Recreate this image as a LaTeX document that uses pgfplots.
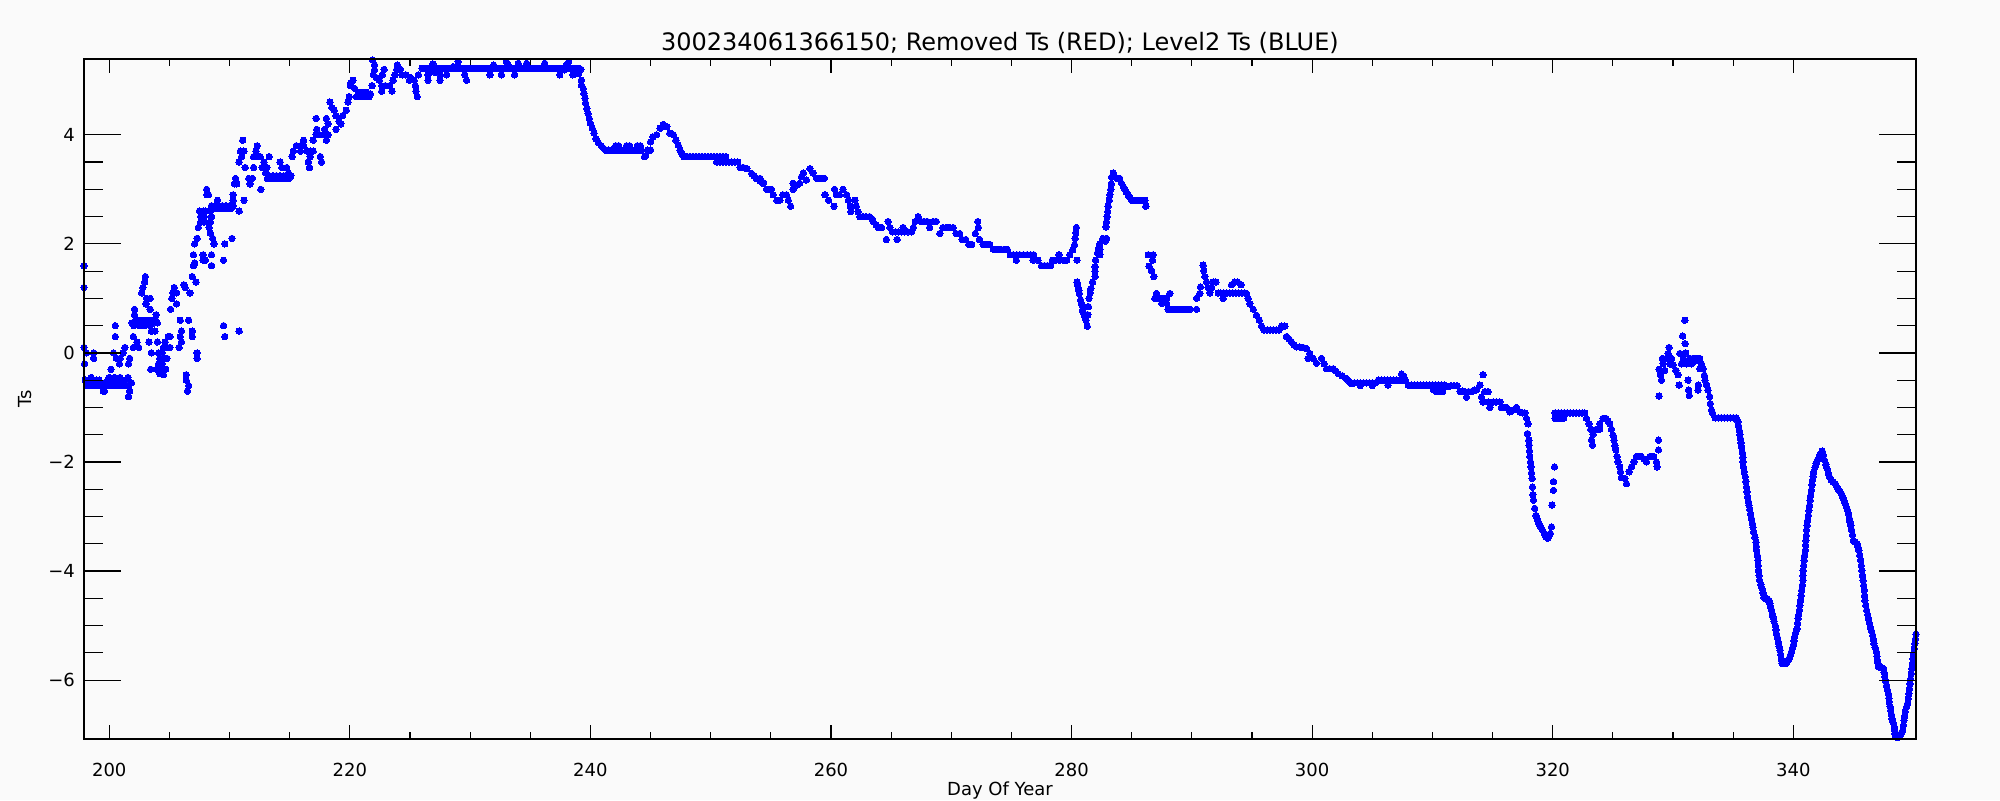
\documentclass[border=0pt]{standalone}
\usepackage{pgfplots}
\pgfplotsset{compat=1.18}
\usepackage{fontspec}
\setmainfont{DejaVu Sans}
\definecolor{bgc}{RGB}{250,250,250}
\definecolor{tsblue}{RGB}{0,0,255}

\begin{document}
\begin{tikzpicture}
\fill[bgc] (-42pt,-30.5pt) rectangle (958pt,369.5pt);
\useasboundingbox (-42pt,-30.5pt) rectangle (958pt,369.5pt);

% data + x ticks
\begin{axis}[
  at={(0,0)}, anchor=south west, scale only axis,
  width=916pt, height=340pt,
  xmin=197.9, xmax=350.2, ymin=-7.08, ymax=5.39,
  axis line style={line width=0.6pt},
  tick align=inside,
  tick style={black, line width=0.6pt},
  major tick length=7pt, minor tick length=3.5pt,
  xtick={200,220,...,340},
  xticklabels={200,220,240,260,280,300,320,340},
  minor x tick num=3,
  ytick=\empty,
  xticklabel style={font=\fontsize{9}{10}\selectfont, yshift=-8.4pt},
  title={300234061366150; Removed Ts (RED); Level2 Ts (BLUE)},
  title style={at={(axis description cs:0.5,1)}, anchor=base, yshift=-1.7pt,
    font=\fontsize{12}{14}\selectfont},
  xlabel={Day Of Year},
  xlabel style={at={(axis description cs:0.5,0)}, anchor=base, yshift=-28pt,
    font=\fontsize{9}{10}\selectfont},
]
\addplot[tsblue, only marks, mark=*, mark size=1.6pt, mark options={fill=tsblue, draw=tsblue, line width=0pt}] coordinates {
(197.9,1.6)(197.9,1.2)(197.9,0.1)(197.95,-0.2)(198.1,0.0)(198.7,0.0)(198.7,-0.1)
(198.0,-0.5)(198.1,-0.6)(198.25,-0.5)(198.4,-0.6)(198.5,-0.45)(198.6,-0.55)(198.75,-0.6)(198.9,-0.5)(199.0,-0.6)(199.15,-0.5)(199.3,-0.55)(199.4,-0.6)(199.5,-0.7)(199.6,-0.7)(199.6,-0.55)(199.75,-0.6)(199.9,-0.5)(200.0,-0.45)(200.1,-0.6)(200.2,-0.5)(200.35,-0.6)(200.45,-0.45)(200.55,-0.55)(200.7,-0.6)(200.8,-0.5)(200.9,-0.45)(201.0,-0.6)(201.1,-0.5)(201.25,-0.6)(201.4,-0.5)(201.55,-0.45)(201.6,-0.6)(201.6,-0.8)(201.7,-0.7)(201.85,-0.55)
(200.15,-0.3)(200.35,0.0)(200.5,0.5)(200.5,0.3)(200.6,-0.1)(200.9,-0.1)(200.85,-0.2)(201.15,0.0)(201.3,0.1)(201.7,-0.1)(201.6,-0.2)
(202.0,0.3)(202.1,0.8)(202.1,0.7)(202.3,0.2)(202.45,0.1)(202.0,0.1)
(201.9,0.55)(202.05,0.5)(202.2,0.6)(202.35,0.55)(202.5,0.5)(202.65,0.6)(202.8,0.55)(202.95,0.5)(203.1,0.6)(203.25,0.55)(203.4,0.5)(203.55,0.6)(203.7,0.55)(203.85,0.6)(204.0,0.55)
(202.7,1.1)(202.8,1.2)(202.95,1.3)(203.0,1.4)(203.1,1.0)(203.05,0.9)(203.4,1.0)(203.4,0.8)(203.9,0.7)
(203.5,0.4)(203.8,0.4)(203.3,0.2)(204.0,0.2)(203.5,0.0)(203.45,-0.3)
(204.1,0.0)(204.4,0.0)(204.2,-0.1)(204.1,-0.2)(204.4,-0.2)(204.6,-0.1)(204.8,-0.1)(204.5,-0.3)(204.2,-0.3)(204.7,-0.3)(204.5,-0.4)(203.95,-0.3)(204.65,0.2)(204.9,0.3)(205.05,0.3)(204.8,0.1)(205.05,0.1)(204.5,0.1)(204.2,-0.38)
(205.1,0.8)(205.2,1.0)(205.3,1.1)(205.4,1.2)(205.6,1.1)(205.6,0.9)(205.9,0.6)(206.0,0.4)(205.9,0.3)(206.0,0.2)(205.8,0.1)(206.4,-0.4)(206.4,-0.5)(206.6,-0.6)(206.5,-0.7)(206.2,1.25)(206.3,1.2)(206.7,1.1)(207.2,1.3)(206.9,1.4)(206.6,0.6)(206.9,0.4)(206.9,0.3)(207.3,0.0)(207.3,-0.1)
(207.0,1.8)(207.1,1.65)(207.0,1.6)(207.1,2.0)(207.3,2.1)(207.4,2.3)(207.6,2.4)(207.6,2.5)(207.5,2.6)(207.8,2.6)(208.0,2.6)(207.9,2.5)(207.9,2.4)(208.1,2.9)(208.1,3.0)(208.25,2.9)(207.8,1.8)(207.8,1.7)(208.0,1.7)(208.5,1.8)(208.5,1.6)(208.6,2.1)(208.7,2.0)(208.4,2.2)(208.3,2.3)(208.4,2.4)(208.5,2.5)(208.4,2.6)(208.5,2.7)
(208.65,2.65)(208.8,2.7)(208.95,2.65)(209.1,2.7)(209.25,2.65)(209.4,2.7)(209.55,2.65)(209.7,2.7)(209.85,2.65)(210.0,2.7)(210.15,2.65)(210.3,2.7)
(209.0,2.8)(209.6,2.0)(209.5,1.7)(210.2,2.1)(210.3,2.9)(210.3,2.8)(211.2,2.8)(210.8,2.6)(209.5,0.5)(209.6,0.3)(210.8,0.4)
(210.5,3.2)(210.6,3.1)(210.4,3.1)(211.6,3.2)(211.7,3.1)(211.9,3.2)(212.6,3.0)(211.1,3.9)(210.9,3.7)(211.2,3.7)(211.0,3.6)(210.8,3.5)(211.3,3.4)(212.0,3.4)(212.3,3.8)(212.2,3.7)(212.0,3.6)(212.3,3.6)(212.55,3.6)(212.85,3.5)(212.7,3.4)(213.3,3.6)(213.1,3.4)(213.0,3.3)
(213.15,3.2)(213.3,3.25)(213.45,3.2)(213.6,3.25)(213.75,3.2)(213.9,3.25)(214.05,3.2)(214.2,3.25)(214.35,3.2)(214.5,3.25)(214.65,3.2)(214.8,3.25)(214.95,3.2)(215.1,3.25)
(214.2,3.5)(214.35,3.4)(214.75,3.4)(214.9,3.3)(215.2,3.6)(215.3,3.7)(215.55,3.8)(215.9,3.8)(216.15,3.8)(216.15,3.9)(215.9,3.7)(216.45,3.7)(216.7,3.7)(216.95,3.7)(216.65,3.4)(216.55,3.5)(216.7,3.6)(216.95,3.9)(217.2,4.0)(217.5,4.0)(217.8,4.0)(217.9,4.1)(218.2,4.0)(218.05,3.9)(218.2,4.2)(217.25,4.1)(217.2,4.3)(218.05,4.3)(217.55,3.6)(217.65,3.5)(218.5,4.5)(218.35,4.6)(218.7,4.45)(218.85,4.35)(219.1,4.25)(219.25,4.2)(218.85,4.1)(219.4,4.35)(219.7,4.45)(219.85,4.6)(219.95,4.7)(220.1,4.95)(220.25,5.0)(220.05,4.9)(220.4,4.85)(220.7,4.75)
(220.55,4.7)(220.7,4.7)(220.85,4.7)(221.0,4.72)(221.15,4.7)(221.3,4.7)(221.45,4.72)(221.6,4.7)(221.7,4.75)(220.8,4.78)(221.1,4.78)(221.4,4.78)
(221.85,4.9)(221.95,5.1)(221.9,5.37)(222.05,5.28)(222.05,5.19)(222.2,5.05)(222.45,5.0)(222.7,5.1)(222.85,5.2)(222.65,4.9)(222.65,4.8)(222.95,4.9)(223.3,4.9)(223.5,4.8)(223.6,5.0)(223.75,5.1)(223.9,5.2)(223.95,5.28)(224.2,5.2)(224.35,5.1)(224.65,5.1)(224.95,5.0)(225.05,5.05)(225.35,5.0)(225.45,4.9)(225.5,4.8)(225.6,4.7)(225.7,5.1)
(226.0,5.22)(226.25,5.22)(226.5,5.22)(226.75,5.22)(227.0,5.22)(227.25,5.22)(227.5,5.22)(227.75,5.22)(228.0,5.22)(228.25,5.22)(228.5,5.22)(228.75,5.22)(229.0,5.22)(229.25,5.22)(229.5,5.22)(229.75,5.22)(230.0,5.22)(230.25,5.22)(230.5,5.22)(230.75,5.22)(231.0,5.22)(231.25,5.22)(231.5,5.22)(231.75,5.22)(232.0,5.22)(232.25,5.22)(232.5,5.22)(232.75,5.22)(233.0,5.22)(233.25,5.22)(233.5,5.22)(233.75,5.22)(234.0,5.22)(234.25,5.22)(234.5,5.22)(234.75,5.22)(235.0,5.22)(235.25,5.22)(235.5,5.22)(235.75,5.22)(236.0,5.22)(236.25,5.22)(236.5,5.22)(236.75,5.22)(237.0,5.22)(237.25,5.22)(237.5,5.22)(237.75,5.22)(238.0,5.22)(238.25,5.22)(238.5,5.22)(238.75,5.22)(239.0,5.22)(239.2,5.2)
(226.5,5.0)(226.5,5.1)(226.9,5.3)(227.05,5.15)(227.5,5.1)(227.5,5.0)(228.05,5.1)(228.6,5.25)(229.0,5.34)(229.55,5.1)(229.7,5.0)(231.65,5.1)(231.95,5.28)(232.6,5.1)(233.0,5.34)(233.15,5.28)(233.7,5.1)(234.0,5.31)(234.7,5.31)(236.2,5.31)(237.45,5.1)(237.85,5.19)(238.2,5.34)(238.0,5.28)(238.55,5.1)(239.0,5.12)(239.25,5.0)
(239.25,4.91)(239.4,4.85)(239.45,4.76)(239.55,4.67)(239.6,4.58)(239.7,4.48)(239.8,4.39)(239.9,4.3)(240.0,4.21)(240.15,4.12)(240.3,4.03)(240.45,3.93)(240.65,3.86)(240.9,3.8)(241.1,3.75)
(241.25,3.72)(241.5,3.72)(241.75,3.72)(242.0,3.72)(242.25,3.72)(242.5,3.72)(242.75,3.72)(243.0,3.72)(243.25,3.72)(243.5,3.72)(243.75,3.72)(244.0,3.72)(244.25,3.72)(244.75,3.72)(245.0,3.72)
(242.1,3.8)(242.35,3.8)(243.0,3.8)(243.25,3.8)(243.9,3.8)(244.15,3.8)(244.5,3.6)(244.6,3.62)
(245.0,3.87)(245.2,3.96)(245.5,4.0)(245.8,4.12)(246.05,4.19)(246.35,4.15)(246.6,4.03)(246.9,4.0)(247.1,3.9)(247.3,3.81)(247.45,3.72)(247.6,3.65)
(247.75,3.6)(248.0,3.6)(248.25,3.6)(248.5,3.6)(248.75,3.6)(249.0,3.6)(249.25,3.6)(249.5,3.6)(249.75,3.6)(250.0,3.6)(250.25,3.6)(250.5,3.6)(250.75,3.6)(251.0,3.6)(251.25,3.6)
(250.5,3.5)(250.75,3.5)(251.0,3.5)(251.25,3.5)(251.5,3.5)(251.75,3.5)(252.0,3.5)(252.25,3.5)
(252.45,3.4)(252.7,3.4)(253.0,3.38)(253.4,3.29)(253.6,3.25)(253.8,3.2)(254.1,3.15)(254.4,3.12)
(254.1,3.2)(254.35,3.11)(254.65,3.0)(254.85,3.0)(255.05,3.0)(255.2,2.9)(255.5,2.8)(255.75,2.8)(256.0,2.9)(256.3,2.9)(256.45,2.8)(256.65,2.69)(256.85,3.0)(256.85,3.11)(257.2,3.08)(257.4,3.11)(257.55,3.23)(257.7,3.3)(257.95,3.17)(258.25,3.38)(258.5,3.3)(258.8,3.2)(259.0,3.2)(259.2,3.2)(259.45,3.2)
(259.5,2.9)(259.8,2.8)(260.25,2.69)(260.3,3.0)(260.45,2.9)(260.7,2.9)(261.0,3.0)(261.3,2.9)(261.45,2.8)(261.6,2.69)(261.65,2.59)(262.0,2.8)(262.1,2.69)(262.25,2.59)(262.4,2.5)(262.65,2.5)(262.9,2.5)(263.2,2.5)(263.45,2.45)(263.5,2.41)(263.75,2.35)(263.95,2.3)(264.2,2.3)(264.6,2.08)(264.75,2.41)(264.9,2.3)(265.1,2.22)(265.35,2.22)(265.5,2.08)(265.6,2.22)(265.85,2.22)(266.0,2.3)(266.1,2.22)(266.4,2.22)(266.7,2.22)(266.85,2.3)(267.0,2.41)(267.25,2.5)(267.5,2.41)(267.75,2.41)(268.0,2.41)(268.2,2.3)(268.5,2.41)(268.75,2.41)(269.05,2.19)(269.3,2.3)(269.6,2.3)(269.85,2.3)(270.15,2.3)(270.4,2.19)(270.7,2.19)(270.9,2.08)(271.2,2.08)(271.45,1.99)(271.7,1.99)(272.0,2.19)(272.2,2.41)(272.25,2.3)(272.35,2.08)(272.65,1.99)(272.95,1.99)(273.2,1.99)(273.5,1.9)(273.8,1.9)(274.1,1.9)(274.4,1.9)(274.65,1.9)(274.9,1.8)(275.15,1.8)(275.4,1.7)(275.45,1.8)(275.7,1.8)(276.0,1.8)(276.3,1.8)(276.6,1.8)(276.85,1.8)(276.8,1.7)(277.2,1.7)(277.5,1.6)(277.75,1.6)(278.0,1.6)(278.25,1.6)(278.4,1.7)(278.7,1.7)(278.95,1.8)(279.0,1.7)(279.3,1.7)(279.6,1.7)(279.85,1.8)(280.1,1.89)(280.25,1.98)(280.3,2.1)(280.35,2.2)(280.4,2.3)(280.45,1.7)
(280.45,1.3)(280.5,1.25)(280.55,1.2)(280.6,1.15)(280.65,1.09)(280.75,0.97)(280.8,0.92)(280.85,0.88)(280.9,0.78)(281.0,0.73)(281.05,0.69)(281.15,0.64)(281.2,0.6)(281.3,0.49)(281.35,0.7)(281.4,0.85)(281.45,1.0)(281.55,1.1)(281.6,1.18)(281.75,1.3)(281.95,1.4)(281.95,1.5)(281.95,1.58)(282.0,1.7)(282.15,1.83)(282.25,1.92)(282.35,2.0)(282.35,1.8)(282.35,1.89)(282.6,2.1)(282.8,2.05)(282.9,2.1)
(282.85,2.31)(282.9,2.4)(282.96,2.5)(283.0,2.59)(283.04,2.69)(283.13,2.8)(283.18,2.9)(283.26,3.0)(283.3,3.1)(283.32,3.22)(283.46,3.3)(283.55,3.25)(283.74,3.2)(284.0,3.2)(284.15,3.11)(284.3,3.05)(284.43,3.0)(284.55,2.95)(284.7,2.9)(284.85,2.85)(284.98,2.8)(285.2,2.8)(285.45,2.8)(285.7,2.8)(285.95,2.8)(286.09,2.8)(286.17,2.69)
(286.37,1.8)(286.78,1.8)(286.73,1.7)(286.45,1.59)(286.65,1.51)(286.84,1.4)
(287.06,1.09)(286.92,1.0)(287.15,1.0)(287.4,1.0)(287.65,1.0)(287.9,1.0)(288.17,1.09)(287.5,0.91)(287.9,0.91)
(288.03,0.8)(288.3,0.8)(288.55,0.8)(288.8,0.8)(289.05,0.8)(289.3,0.8)(289.55,0.8)(289.83,0.8)(290.39,0.8)(290.39,1.0)(290.66,1.09)(290.72,1.21)(290.94,1.61)(290.99,1.51)(291.08,1.4)(291.22,1.3)(291.35,1.2)(291.49,1.1)(291.65,1.2)(291.77,1.3)(291.99,1.3)(292.19,1.1)(292.6,1.0)
(292.4,1.1)(292.65,1.1)(292.9,1.1)(293.15,1.1)(293.4,1.1)(293.65,1.1)(293.9,1.1)(294.15,1.1)(294.4,1.1)(294.54,1.09)(293.3,1.25)(293.55,1.3)(293.8,1.3)(294.1,1.25)
(294.68,1.0)(294.82,0.9)(295.1,0.8)(295.37,0.69)(295.6,0.6)(295.79,0.49)(296.0,0.42)(296.25,0.42)(296.5,0.42)(296.75,0.42)(297.0,0.42)(297.25,0.42)(297.45,0.49)(297.73,0.49)(297.87,0.3)(298.1,0.25)(298.28,0.2)(298.5,0.15)(298.7,0.11)(298.97,0.11)(299.25,0.1)(299.53,0.08)(299.8,-0.01)(299.67,-0.1)(300.08,-0.1)(300.36,-0.19)(300.78,-0.1)(301.0,-0.2)(301.19,-0.29)(301.45,-0.29)(301.75,-0.29)(301.95,-0.33)(302.16,-0.38)(302.5,-0.42)(302.85,-0.47)(303.05,-0.52)(303.27,-0.56)
(303.5,-0.55)(303.75,-0.55)(304.0,-0.55)(304.25,-0.55)(304.5,-0.55)(304.75,-0.55)(305.0,-0.55)(305.25,-0.55)(305.5,-0.5)(305.75,-0.5)(306.0,-0.5)(306.25,-0.5)(306.5,-0.5)(306.75,-0.5)(307.0,-0.5)(307.25,-0.5)(307.5,-0.5)(307.75,-0.5)(308.0,-0.59)(308.25,-0.59)(308.5,-0.59)(308.75,-0.59)(309.0,-0.59)(309.25,-0.59)(309.5,-0.59)(309.75,-0.59)(310.0,-0.59)(310.25,-0.59)(310.5,-0.59)(310.75,-0.59)(311.0,-0.59)
(304.0,-0.6)(305.0,-0.6)(307.43,-0.39)(307.6,-0.42)(306.3,-0.59)(311.1,-0.62)
(310.1,-0.68)(310.35,-0.71)(310.6,-0.71)(310.85,-0.71)(311.3,-0.62)(311.55,-0.6)(311.8,-0.6)(312.05,-0.6)(312.3,-0.71)(312.5,-0.7)(312.69,-0.71)(312.83,-0.81)(313.0,-0.71)(313.24,-0.71)(313.5,-0.68)(313.66,-0.68)(313.94,-0.59)(314.21,-0.4)(314.07,-0.81)(314.35,-0.71)(314.63,-0.71)(314.2,-0.9)(314.63,-0.9)(314.77,-1.0)(315.04,-0.9)(315.3,-0.9)(315.6,-0.9)(315.74,-1.0)(315.95,-1.0)(316.15,-1.0)(316.43,-1.08)(316.7,-1.05)(316.98,-1.0)(317.26,-1.08)(317.5,-1.1)(317.68,-1.1)(317.82,-1.2)(317.95,-1.3)
(317.9,-1.48)(318.01,-1.6)(318.04,-1.69)(318.07,-1.8)(318.09,-1.9)(318.15,-2.0)(318.18,-2.09)(318.23,-2.2)(318.29,-2.3)(318.31,-2.46)(318.35,-2.6)(318.4,-2.7)(318.5,-2.85)(318.6,-2.98)(318.7,-3.04)(318.8,-3.1)(318.9,-3.15)(319.0,-3.19)(319.15,-3.25)(319.3,-3.31)(319.45,-3.38)(319.57,-3.4)(319.7,-3.35)(319.8,-3.31)(319.9,-3.19)(319.94,-2.79)(320.06,-2.52)(320.06,-2.36)(320.15,-2.09)
(320.2,-1.1)(320.2,-1.2)(320.45,-1.1)(320.45,-1.2)(320.7,-1.1)(320.7,-1.2)(320.95,-1.1)(320.9,-1.2)(321.2,-1.1)(321.45,-1.1)(321.7,-1.1)(321.95,-1.1)(322.2,-1.1)(322.45,-1.1)(322.66,-1.1)(322.8,-1.2)(323.02,-1.3)(323.16,-1.4)(323.36,-1.49)(323.22,-1.6)(323.3,-1.69)(323.63,-1.4)(323.91,-1.4)(323.91,-1.3)(324.19,-1.2)(324.41,-1.2)(324.6,-1.25)(324.74,-1.3)(324.88,-1.4)(325.02,-1.51)(325.1,-1.6)(325.17,-1.7)(325.24,-1.78)(325.35,-1.9)(325.44,-2.0)(325.57,-2.09)(325.63,-2.18)(325.71,-2.29)(325.99,-2.3)(326.13,-2.4)(326.35,-2.18)(326.54,-2.09)(326.74,-2.0)(326.96,-1.9)(327.2,-1.9)(327.37,-1.9)(327.6,-1.95)(327.79,-2.0)(328.07,-1.9)(328.25,-1.9)(328.4,-1.9)(328.62,-2.0)(328.68,-2.09)(328.79,-1.78)(328.79,-1.6)
(328.84,-0.79)(328.84,-0.3)(328.95,-0.4)(329.04,-0.5)(329.12,-0.1)(329.18,-0.2)(329.31,-0.32)(329.45,-0.1)(329.59,-0.01)(329.67,0.1)(329.73,-0.2)(329.87,-0.1)(330.01,-0.22)(330.23,-0.32)(330.42,-0.4)(330.51,-0.59)(330.57,-0.01)(330.7,-0.2)(330.8,0.31)(330.98,0.6)(331.0,0.17)(331.06,0.0)(330.85,-0.1)(331.1,-0.2)
(331.25,-0.5)(331.3,-0.68)(331.35,-0.78)(331.39,-0.1)(331.53,-0.2)(331.67,-0.1)(331.8,-0.15)(331.95,-0.1)(332.08,-0.68)(332.1,-0.59)(332.22,-0.1)(332.22,-0.29)(332.36,-0.2)(332.5,-0.29)(332.6,-0.41)(332.65,-0.5)(332.8,-0.59)(332.9,-0.68)(333.05,-0.8)(333.1,-0.93)(333.2,-1.05)(333.3,-1.11)
(333.5,-1.19)(333.75,-1.19)(334.0,-1.19)(334.25,-1.19)(334.5,-1.19)(334.75,-1.19)(335.0,-1.19)(335.25,-1.19)
(335.4,-1.26)(335.45,-1.34)(335.5,-1.42)(335.55,-1.5)(335.6,-1.57)(335.65,-1.65)(335.7,-1.72)(335.75,-1.82)(335.8,-1.91)(335.82,-2.0)(335.85,-2.09)(335.92,-2.18)(336.0,-2.27)(336.05,-2.36)(336.1,-2.46)(336.15,-2.55)(336.2,-2.64)(336.25,-2.72)(336.3,-2.79)(336.38,-2.87)(336.45,-2.95)(336.52,-3.04)(336.6,-3.13)(336.65,-3.2)(336.7,-3.28)(336.8,-3.38)(336.9,-3.47)(336.93,-3.55)(336.95,-3.62)(337.0,-3.71)(337.05,-3.8)(337.08,-3.9)(337.1,-3.99)(337.15,-4.08)(337.2,-4.17)(337.3,-4.25)(337.4,-4.32)(337.48,-4.4)(337.55,-4.48)(337.7,-4.51)(337.85,-4.51)(338.0,-4.55)(338.05,-4.6)(338.12,-4.66)(338.2,-4.72)(338.25,-4.78)(338.3,-4.84)(338.4,-4.92)(338.5,-5.0)(338.55,-5.08)(338.6,-5.15)(338.68,-5.22)(338.75,-5.3)(338.82,-5.38)(338.9,-5.45)(338.95,-5.53)(339.0,-5.61)(339.05,-5.69)(339.15,-5.69)(339.3,-5.69)(339.4,-5.69)(339.5,-5.66)(339.6,-5.62)(339.7,-5.58)(339.78,-5.53)(339.85,-5.48)(339.92,-5.42)(340.0,-5.36)(340.05,-5.28)(340.1,-5.21)(340.2,-5.13)(340.3,-5.06)(340.35,-4.96)(340.4,-4.87)(340.45,-4.8)(340.5,-4.72)(340.55,-4.63)(340.6,-4.54)(340.65,-4.45)(340.7,-4.35)(340.75,-4.26)(340.8,-4.17)(340.8,-4.08)(340.82,-3.99)(340.86,-3.9)(340.9,-3.8)(340.95,-3.71)(341.0,-3.62)(341.02,-3.53)(341.05,-3.44)(341.08,-3.35)(341.1,-3.25)(341.15,-3.16)(341.2,-3.07)(341.25,-2.98)(341.3,-2.89)(341.35,-2.8)(341.4,-2.7)(341.45,-2.61)(341.5,-2.52)(341.55,-2.42)(341.6,-2.33)(341.65,-2.26)(341.7,-2.18)(341.8,-2.1)(341.9,-2.03)(342.0,-1.97)(342.15,-1.91)(342.25,-1.85)(342.4,-1.8)(342.5,-1.88)(342.6,-1.97)(342.7,-2.05)(342.8,-2.12)(342.9,-2.2)(343.0,-2.27)(343.15,-2.33)(343.3,-2.37)(343.5,-2.4)(343.6,-2.45)(343.7,-2.49)(343.85,-2.53)(344.0,-2.58)(344.1,-2.64)(344.2,-2.7)(344.3,-2.76)(344.4,-2.82)(344.5,-2.88)(344.6,-2.95)(344.65,-3.03)(344.7,-3.1)(344.78,-3.17)(344.85,-3.25)(344.92,-3.34)(345.0,-3.44)(345.15,-3.47)(345.3,-3.5)(345.38,-3.56)(345.45,-3.62)(345.52,-3.71)(345.6,-3.8)(345.65,-3.9)(345.7,-3.99)(345.75,-4.08)(345.8,-4.17)(345.85,-4.26)(345.9,-4.35)(345.92,-4.45)(345.95,-4.54)(346.02,-4.63)(346.1,-4.72)(346.18,-4.8)(346.25,-4.87)(346.32,-4.95)(346.4,-5.03)(346.5,-5.1)(346.6,-5.18)(346.65,-5.25)(346.7,-5.33)(346.8,-5.4)(346.9,-5.48)(346.95,-5.56)(347.0,-5.64)(347.05,-5.7)(347.1,-5.76)(347.2,-5.77)(347.3,-5.77)(347.4,-5.78)(347.5,-5.79)(347.55,-5.86)(347.6,-5.94)(347.68,-6.02)(347.75,-6.1)(347.82,-6.18)(347.9,-6.25)(347.94,-6.33)(347.97,-6.4)(348.03,-6.48)(348.1,-6.55)(348.15,-6.63)(348.2,-6.71)(348.3,-6.78)(348.4,-6.86)(348.42,-6.92)(348.44,-6.98)(348.5,-7.02)(348.6,-7.05)(348.7,-7.05)(348.8,-7.02)(348.9,-7.0)(349.0,-6.96)(349.1,-6.92)(349.15,-6.83)(349.2,-6.74)(349.25,-6.66)(349.3,-6.58)(349.4,-6.5)(349.5,-6.43)(349.55,-6.34)(349.6,-6.25)(349.65,-6.16)(349.7,-6.07)(349.75,-5.98)(349.8,-5.88)(349.85,-5.79)(349.9,-5.7)(349.95,-5.61)(350.0,-5.52)(350.05,-5.42)(350.1,-5.33)(350.15,-5.25)(350.2,-5.16)
};
\end{axis}

% y ticks with their own (longer) lengths
\begin{axis}[
  at={(0,0)}, anchor=south west, scale only axis,
  width=916pt, height=340pt,
  xmin=197.9, xmax=350.2, ymin=-7.08, ymax=5.39,
  axis line style={line width=0.6pt},
  tick align=inside,
  tick style={black, line width=0.6pt},
  major tick length=18.75pt, minor tick length=9.4pt,
  xtick=\empty,
  ytick={-6,-4,-2,0,2,4},
  yticklabels={−6,−4,−2,0,2,4},
  minor y tick num=3,
  yticklabel style={font=\fontsize{9}{10}\selectfont, xshift=-1pt},
  ylabel={Ts},
  ylabel style={at={(axis description cs:-0.0322,0.5)}, anchor=center,
    font=\fontsize{9}{10}\selectfont},
]
\end{axis}
\end{tikzpicture}
\end{document}
